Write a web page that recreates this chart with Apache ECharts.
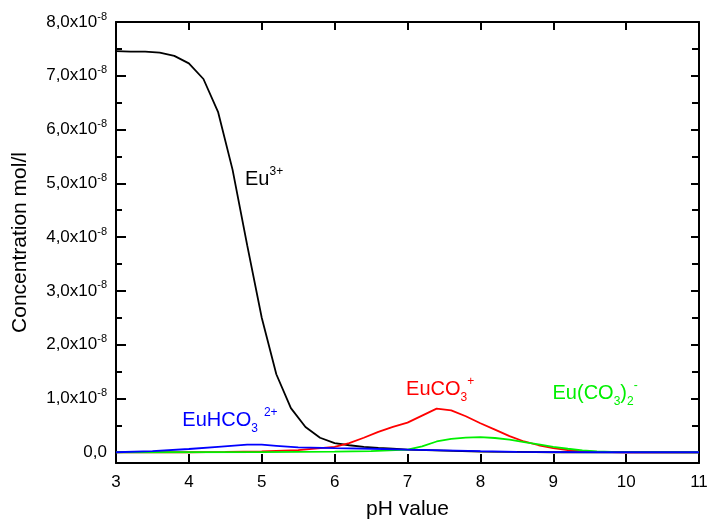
<!DOCTYPE html>
<html>
<head>
<meta charset="utf-8">
<script src="https://cdn.jsdelivr.net/npm/echarts@6/dist/echarts.min.js"></script>
<style>
  html, body { margin: 0; padding: 0; background: #fff; }
  #chart { width: 708px; height: 519px; }
</style>
</head>
<body>
<div id="chart"></div>
<script>
// Europium speciation vs pH; concentrations in units of 1e-8 mol/l
const phEu3 = [3.0, 3.2, 3.4, 3.6, 3.8, 4.0, 4.2, 4.4, 4.6, 4.8, 5.0, 5.2, 5.4, 5.6, 5.8, 6.0, 6.2, 6.4, 6.6, 6.8, 7.0, 7.5, 8.0, 8.5, 9.0, 10.0, 11.0];
const concEu3 = [7.46, 7.45, 7.45, 7.43, 7.37, 7.23, 6.94, 6.33, 5.25, 3.85, 2.50, 1.45, 0.82, 0.47, 0.27, 0.17, 0.13, 0.10, 0.08, 0.065, 0.05, 0.03, 0.01, 0.005, 0, 0, 0];

const phEuHCO3 = [3.0, 3.5, 4.0, 4.4, 4.8, 5.0, 5.2, 5.5, 6.0, 6.5, 7.0, 7.5, 8.0, 8.5, 9.0, 10.0, 11.0];
const concEuHCO3 = [0, 0.02, 0.06, 0.10, 0.14, 0.14, 0.12, 0.09, 0.075, 0.065, 0.05, 0.035, 0.02, 0.008, 0.002, 0, 0];

const phEuCO3 = [3.0, 4.0, 4.5, 5.0, 5.5, 6.0, 6.2, 6.4, 6.6, 6.8, 7.0, 7.2, 7.4, 7.6, 7.8, 8.0, 8.2, 8.4, 8.6, 8.8, 9.0, 9.2, 9.4, 9.6, 9.8, 10.0, 11.0];
const concEuCO3 = [0, 0, 0.005, 0.015, 0.04, 0.10, 0.17, 0.27, 0.38, 0.47, 0.55, 0.68, 0.81, 0.78, 0.67, 0.54, 0.42, 0.30, 0.20, 0.13, 0.075, 0.04, 0.018, 0.007, 0.002, 0, 0];

const phEuCO32 = [3.0, 5.0, 6.0, 6.5, 7.0, 7.2, 7.4, 7.6, 7.8, 8.0, 8.2, 8.4, 8.6, 8.8, 9.0, 9.2, 9.4, 9.6, 9.8, 10.0, 11.0];
const concEuCO32 = [0, 0.003, 0.01, 0.02, 0.05, 0.11, 0.20, 0.25, 0.27, 0.28, 0.265, 0.235, 0.19, 0.145, 0.10, 0.065, 0.035, 0.018, 0.007, 0.002, 0];

const yMajor = [0, 1, 2, 3, 4, 5, 6, 7, 8];
const yMinor = [0.5, 1.5, 2.5, 3.5, 4.5, 5.5, 6.5, 7.5];

const FONT = 'Liberation Sans, Arial, sans-serif';
const GREEN = '#00f000';

function pairs(xs, ys) { return xs.map((x, i) => [x, ys[i]]); }

function yLabel(v) {
  if (Math.abs(v) < 1e-9) return '{a|0,0}';
  return '{a|' + v.toFixed(1).replace('.', ',') + 'x10}{b|-8}';
}

const chart = echarts.init(document.getElementById('chart'), null, { renderer: 'canvas' });

const frameLine = { show: true, onZero: false, lineStyle: { color: '#000', width: 2 } };
const yBase = { type: 'value', min: -0.2, max: 8, gridIndex: 0, splitLine: { show: false } };

const option = {
  backgroundColor: '#ffffff',
  animation: false,
  grid: { left: 116, top: 22, right: 9, bottom: 56, containLabel: false, outerBoundsMode: 'none' },
  xAxis: [
    {
      type: 'value', min: 3, max: 11, interval: 1, position: 'bottom',
      name: 'pH value', nameLocation: 'middle', nameGap: 36,
      nameTextStyle: { fontFamily: FONT, fontSize: 21, color: '#000' },
      axisLine: frameLine,
      axisTick: { show: true, inside: true, length: 9, lineStyle: { color: '#000', width: 2 } },
      axisLabel: { fontFamily: FONT, fontSize: 17, color: '#000', margin: 11 },
      splitLine: { show: false }
    },
    {
      type: 'value', min: 3, max: 11, interval: 1, position: 'top',
      axisLine: frameLine,
      axisTick: { show: true, inside: true, length: 8, lineStyle: { color: '#000', width: 2 } },
      axisLabel: { show: false },
      splitLine: { show: false }
    }
  ],
  yAxis: [
    Object.assign({}, yBase, {
      position: 'left',
      name: 'Concentration mol/l', nameLocation: 'middle', nameGap: 85, nameRotate: 90,
      nameTextStyle: { fontFamily: FONT, fontSize: 21, color: '#000' },
      axisLine: frameLine,
      axisTick: { show: true, inside: true, length: 10, customValues: yMajor, lineStyle: { color: '#000', width: 2 } },
      axisLabel: {
        customValues: yMajor, margin: 9, formatter: yLabel,
        rich: {
          a: { fontFamily: FONT, fontSize: 17, color: '#000', lineHeight: 22 },
          b: { fontFamily: FONT, fontSize: 11, color: '#000', lineHeight: 8, verticalAlign: 'top' }
        }
      }
    }),
    Object.assign({}, yBase, {
      position: 'left',
      axisLine: { show: false, onZero: false },
      axisTick: { show: true, inside: true, length: 6, customValues: yMinor, lineStyle: { color: '#000', width: 2 } },
      axisLabel: { show: false }
    }),
    Object.assign({}, yBase, {
      position: 'right',
      axisLine: frameLine,
      axisTick: { show: true, inside: true, length: 8, customValues: yMajor, lineStyle: { color: '#000', width: 2 } },
      axisLabel: { show: false }
    }),
    Object.assign({}, yBase, {
      position: 'right',
      axisLine: { show: false, onZero: false },
      axisTick: { show: true, inside: true, length: 7, customValues: yMinor, lineStyle: { color: '#000', width: 2 } },
      axisLabel: { show: false }
    })
  ],
  series: [
    { name: 'Eu3+', type: 'line', data: pairs(phEu3, concEu3), showSymbol: false, lineStyle: { color: '#000000', width: 1.8 }, z: 2 },
    { name: 'EuCO3+', type: 'line', data: pairs(phEuCO3, concEuCO3), showSymbol: false, lineStyle: { color: '#ff0000', width: 1.8 }, z: 3 },
    { name: 'Eu(CO3)2-', type: 'line', data: pairs(phEuCO32, concEuCO32), showSymbol: false, lineStyle: { color: GREEN, width: 1.8 }, z: 4 },
    { name: 'EuHCO3 2+', type: 'line', data: pairs(phEuHCO3, concEuHCO3), showSymbol: false, lineStyle: { color: '#0000ff', width: 1.8 }, z: 5 }
  ]
};

chart.setOption(option);

// Species labels, anchored in data space (pH, concentration)
const speciesLabels = [
  { text: 'Eu{sup|3+}', at: [4.77, 5.07], color: '#000000' },
  { text: 'EuHCO{sub|3}{sup2|2+}', at: [3.91, 0.585], color: '#0000ff' },
  { text: 'EuCO{sub|3}{sup|+}', at: [6.98, 1.167], color: '#ff0000' },
  { text: 'Eu(CO{sub|3}){sub|2}{sup|-}', at: [8.99, 1.084], color: GREEN }
];

const graphics = speciesLabels.map(l => {
  const p = chart.convertToPixel({ xAxisIndex: 0, yAxisIndex: 0 }, l.at);
  return {
    type: 'text', x: p[0], y: p[1], z: 10,
    style: {
      text: l.text, fill: l.color, fontFamily: FONT, fontSize: 20,
      align: 'left', verticalAlign: 'middle', lineHeight: 28,
      rich: {
        sup: { fontFamily: FONT, fontSize: 12, fill: l.color, lineHeight: 14, verticalAlign: 'top' },
        sup2: { fontFamily: FONT, fontSize: 12, fill: l.color, lineHeight: 14, verticalAlign: 'top', padding: [0, 0, 0, 6] },
        sub: { fontFamily: FONT, fontSize: 12, fill: l.color, lineHeight: 6, verticalAlign: 'bottom' }
      }
    }
  };
});

chart.setOption({ graphic: graphics });
</script>
</body>
</html>
